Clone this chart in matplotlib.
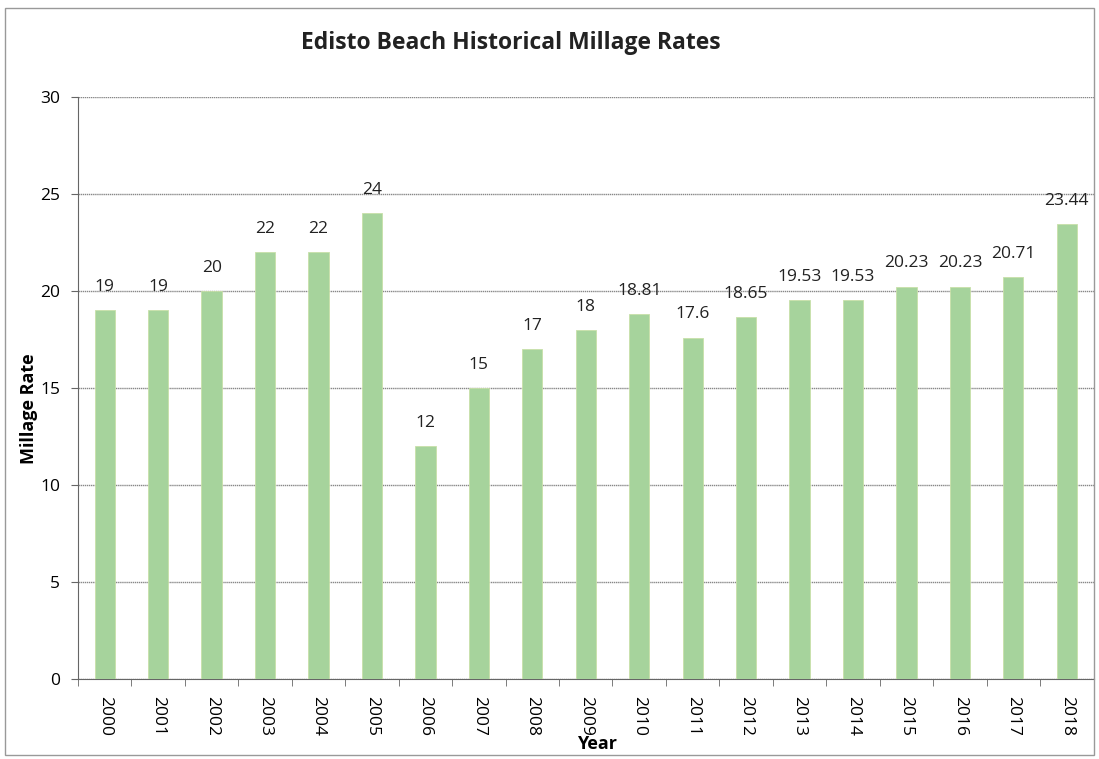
import matplotlib.pyplot as plt
import numpy as np
from matplotlib.patches import Rectangle

years = ['2000', '2001', '2002', '2003', '2004', '2005', '2006', '2007', '2008', '2009',
         '2010', '2011', '2012', '2013', '2014', '2015', '2016', '2017', '2018']
rates = [19, 19, 20, 22, 22, 24, 12, 15, 17, 18, 18.81, 17.6, 18.65, 19.53, 19.53,
         20.23, 20.23, 20.71, 23.44]
labels = ['19', '19', '20', '22', '22', '24', '12', '15', '17', '18', '18.81', '17.6',
          '18.65', '19.53', '19.53', '20.23', '20.23', '20.71', '23.44']

plt.rcParams['font.family'] = ['Open Sans', 'DejaVu Sans']
bar_color = '#a6d39c'

fig = plt.figure(figsize=(10.99, 7.59), dpi=100)
ax = fig.add_axes([0.071, 0.1054, 0.924, 0.7668])

x = np.arange(len(years))
ax.bar(x, rates, width=0.38, color=bar_color, edgecolor='#c8e0a8', linewidth=0.6, zorder=3)

for xi, v, lab in zip(x, rates, labels):
    ax.annotate(lab, (xi, v), xytext=(0, 11), textcoords='offset points',
                ha='center', va='bottom', fontsize=12.5, color='#222222')

ax.set_xlim(-0.5, len(years) - 0.5)
ax.set_ylim(0, 30)
ax.set_yticks(range(0, 31, 5))
ax.yaxis.grid(True, color='#888888', linewidth=1.0, linestyle=(0, (1, 0.5)), zorder=0)
ax.set_axisbelow(True)

ax.set_xticks(x)
ax.set_xticklabels(years, rotation=-90, fontsize=12.5)
ax.set_xticks(np.arange(-0.5, len(years)), minor=True)
ax.tick_params(axis='x', which='major', length=0, pad=12)
ax.tick_params(axis='x', which='minor', length=5, color='#666666')
ax.tick_params(axis='y', labelsize=12.5, length=5, color='#666666', pad=8)

for s in ['top', 'right']:
    ax.spines[s].set_visible(False)
ax.spines['left'].set_color('#666666')
ax.spines['bottom'].set_color('#666666')

fig.text(0.026, 0.462, 'Millage Rate', rotation=90, ha='center', va='center',
         fontsize=13, fontweight='bold')
fig.text(0.543, 0.0135, 'Year', ha='center', va='baseline', fontsize=13, fontweight='bold')
fig.text(0.465, 0.943, 'Edisto Beach Historical Millage Rates', ha='center', va='center',
         fontsize=16.5, fontweight='bold', color='#222222')

fig.patches.append(Rectangle((0.005, 0.005), 0.99, 0.985, transform=fig.transFigure,
                             fill=False, edgecolor='#999999', linewidth=1.0))

fig.savefig('out.png', dpi=100)
